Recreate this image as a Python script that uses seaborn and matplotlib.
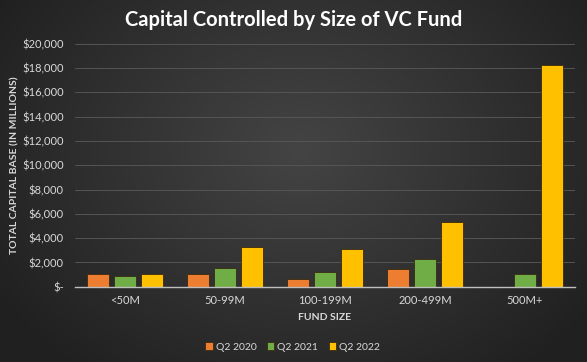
import numpy as np
import pandas as pd
import matplotlib.pyplot as plt
import seaborn as sns
from matplotlib.ticker import FuncFormatter

fund_sizes = ['<50M', '50-99M', '100-199M', '200-499M', '500M+']
quarters = ['Q2 2020', 'Q2 2021', 'Q2 2022']
q2_2020 = [1050, 1020, 650, 1420, 0]
q2_2021 = [880, 1520, 1200, 2280, 1030]
q2_2022 = [1080, 3230, 3130, 5350, 18250]

colors = ['#ED7D31', '#70AD47', '#FFC000']
text_color = '#d9d9d9'

df = pd.DataFrame({
    'fund': fund_sizes * 3,
    'quarter': np.repeat(quarters, len(fund_sizes)),
    'value': q2_2020 + q2_2021 + q2_2022,
})

sns.set_style('dark')
plt.rcParams['font.family'] = ['Lato', 'DejaVu Sans']

fig = plt.figure(figsize=(5.87, 3.62), dpi=100)

# dark radial background
bg = fig.add_axes([0, 0, 1, 1])
yy, xx = np.mgrid[0:362, 0:587]
r = np.sqrt(((xx - 300) / 330.0) ** 2 + ((yy - 150) / 260.0) ** 2)
shade = np.clip(0.27 - 0.13 * r, 0.13, 0.28)
bg.imshow(shade, cmap='gray', vmin=0, vmax=1, aspect='auto')
bg.axis('off')

ax = fig.add_axes([75 / 587, 75.3 / 362, 500 / 587, 243 / 362])
ax.set_facecolor('none')

sns.barplot(data=df, x='fund', y='value', hue='quarter', palette=colors, saturation=1,
            width=0.8, gap=0.17, edgecolor='#3a2a10', linewidth=0.6, ax=ax)

ax.set_ylim(0, 20000)
ax.set_xlim(-0.5, 4.5)
ax.set_yticks(range(0, 20001, 2000))
ax.yaxis.set_major_formatter(FuncFormatter(lambda v, p: '$-' if v == 0 else f'${v:,.0f}'))
ax.grid(axis='y', color='#555555', linewidth=0.7)
ax.grid(axis='x', visible=False)
ax.set_axisbelow(True)
for s in ['top', 'right', 'left']:
    ax.spines[s].set_visible(False)
ax.spines['bottom'].set_color('#bfbfbf')
ax.spines['bottom'].set_linewidth(1)
ax.tick_params(axis='both', colors=text_color, labelsize=8, length=0, pad=6)
ax.tick_params(axis='y', pad=8)

ax.set_xlabel('FUND SIZE', color=text_color, fontsize=7.5, fontweight='bold', labelpad=5)
ax.set_ylabel('TOTAL CAPITAL BASE (IN MILLIONS)', color=text_color, fontsize=7.5,
              fontweight='bold')
ax.yaxis.set_label_coords(-56 / 500, 0.5)

leg = ax.legend(loc='upper center', bbox_to_anchor=(0.435, -0.19), ncol=3, frameon=False,
                fontsize=7.5, handlelength=0.7, handleheight=0.7, handletextpad=0.3,
                columnspacing=1.0, labelcolor=text_color)

fig.text(0.5, 0.945, 'Capital Controlled by Size of VC Fund', ha='center', va='center',
         color='white', fontsize=14.5, fontweight='bold')

fig.savefig('out.png', dpi=100)
